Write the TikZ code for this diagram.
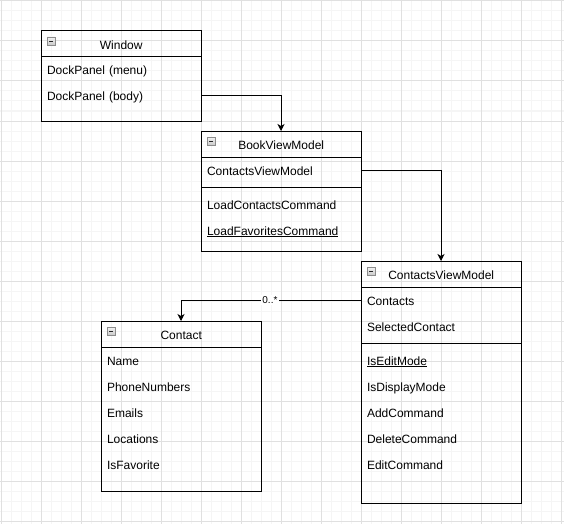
\documentclass[tikz,border=0pt]{standalone}
\usepackage{fontspec}
\setmainfont{Liberation Sans}
\usetikzlibrary{calc,arrows.meta}
\definecolor{minorgrid}{HTML}{F5F5F5}
\definecolor{majorgrid}{HTML}{E0E0E0}
\definecolor{iconborder}{HTML}{8C8C8C}
\definecolor{icontop}{HTML}{F4F4F4}
\definecolor{iconbot}{HTML}{CACACA}
\begin{document}
\begin{tikzpicture}[x=1pt,y=-1pt,
  every node/.style={font=\fontsize{12}{14}\selectfont},
  classbox/.style={draw,line width=1pt,minimum width=160pt,anchor=north west,inner sep=0pt,outer sep=0pt},
  hdr/.style={anchor=north west,minimum width=160pt,minimum height=26pt,text height=12pt,text depth=2pt,inner sep=0pt},
  rowtxt/.style={anchor=north west,minimum width=160pt,minimum height=26pt,text width=148pt,align=left,inner xsep=6pt,inner ysep=0pt,text height=12pt,text depth=2pt,outer sep=0pt},
  sepline/.style={line width=1pt},
  iconbox/.style={draw=iconborder,line width=0.8pt,top color=icontop,bottom color=iconbot},
  iconminus/.style={line width=0.9pt,black!85},
  conn/.style={line width=1pt,-{Stealth[length=7pt,width=7pt,inset=2pt]}},
  lbl/.style={fill=white,font=\fontsize{10}{12}\selectfont,inner xsep=1.5pt,inner ysep=1pt}
]
\useasboundingbox (0,0) rectangle (564,524);
\fill[white] (0,0) rectangle (564,524);
% grid
\foreach \i in {1,11,...,561} \draw[minorgrid,line width=1pt] (\i,0) -- (\i,524);
\foreach \j in {1,11,...,521} \draw[minorgrid,line width=1pt] (0,\j) -- (564,\j);
\foreach \i in {1,41,...,561} \draw[majorgrid,line width=1pt] (\i,0) -- (\i,524);
\foreach \j in {1,41,...,521} \draw[majorgrid,line width=1pt] (0,\j) -- (564,\j);

% ---------- Window ----------
\node[classbox,minimum height=90pt] (win) at (41,31) {};
\node[hdr] (winH) at (41,31) {Window};
\draw[sepline] ($(win.north west)+(0,26)$) -- ++(160,0);
\draw[iconbox] ($(win.north west)+(6,6)$) rectangle ++(8,8);
\draw[iconminus] ($(win.north west)+(8,10)$) -- ++(4,0);
\node[rowtxt] (winMenu) at (41,57) {DockPanel (menu)};
\node[rowtxt] (winBody) at (41,83) {DockPanel (body)};

% ---------- BookViewModel ----------
\node[classbox,minimum height=120pt] (book) at (201,131) {};
\node[hdr] (bookH) at (201,131) {BookViewModel};
\draw[sepline] ($(book.north west)+(0,26)$) -- ++(160,0);
\draw[sepline] ($(book.north west)+(0,56)$) -- ++(160,0);
\draw[iconbox] ($(book.north west)+(6,6)$) rectangle ++(8,8);
\draw[iconminus] ($(book.north west)+(8,10)$) -- ++(4,0);
\node[rowtxt] (bookCVM) at (201,157) {ContactsViewModel};
\node[rowtxt] (bookLoadC) at (201,191) {LoadContactsCommand};
\node[rowtxt] (bookLoadF) at (201,217) {\underline{LoadFavoritesCommand}};

% ---------- ContactsViewModel ----------
\node[classbox,minimum height=242pt] (cvm) at (361,261) {};
\node[hdr] (cvmH) at (361,261) {ContactsViewModel};
\draw[sepline] ($(cvm.north west)+(0,26)$) -- ++(160,0);
\draw[sepline] ($(cvm.north west)+(0,82)$) -- ++(160,0);
\draw[iconbox] ($(cvm.north west)+(6,6)$) rectangle ++(8,8);
\draw[iconminus] ($(cvm.north west)+(8,10)$) -- ++(4,0);
\node[rowtxt] (cvmContacts) at (361,287) {Contacts};
\node[rowtxt] (cvmSel) at (361,313) {SelectedContact};
\node[rowtxt] (cvmEdit) at (361,347) {\underline{IsEditMode}};
\node[rowtxt] (cvmDisp) at (361,373) {IsDisplayMode};
\node[rowtxt] (cvmAdd) at (361,399) {AddCommand};
\node[rowtxt] (cvmDel) at (361,425) {DeleteCommand};
\node[rowtxt] (cvmEditC) at (361,451) {EditCommand};

% ---------- Contact ----------
\node[classbox,minimum height=170pt] (contact) at (101,321) {};
\node[hdr] (contactH) at (101,321) {Contact};
\draw[sepline] ($(contact.north west)+(0,26)$) -- ++(160,0);
\draw[iconbox] ($(contact.north west)+(6,6)$) rectangle ++(8,8);
\draw[iconminus] ($(contact.north west)+(8,10)$) -- ++(4,0);
\node[rowtxt] (cName) at (101,347) {Name};
\node[rowtxt] (cPhone) at (101,373) {PhoneNumbers};
\node[rowtxt] (cEmails) at (101,399) {Emails};
\node[rowtxt] (cLoc) at (101,425) {Locations};
\node[rowtxt] (cFav) at (101,451) {IsFavorite};

% ---------- connectors ----------
\draw[conn] (winBody.east) -| (book.north);
\draw[conn] (bookCVM.east) -| (cvm.north);
\draw[conn] (cvmContacts.west) -| node[lbl,pos=0.253] {0..*} (contact.north);
\end{tikzpicture}
\end{document}
